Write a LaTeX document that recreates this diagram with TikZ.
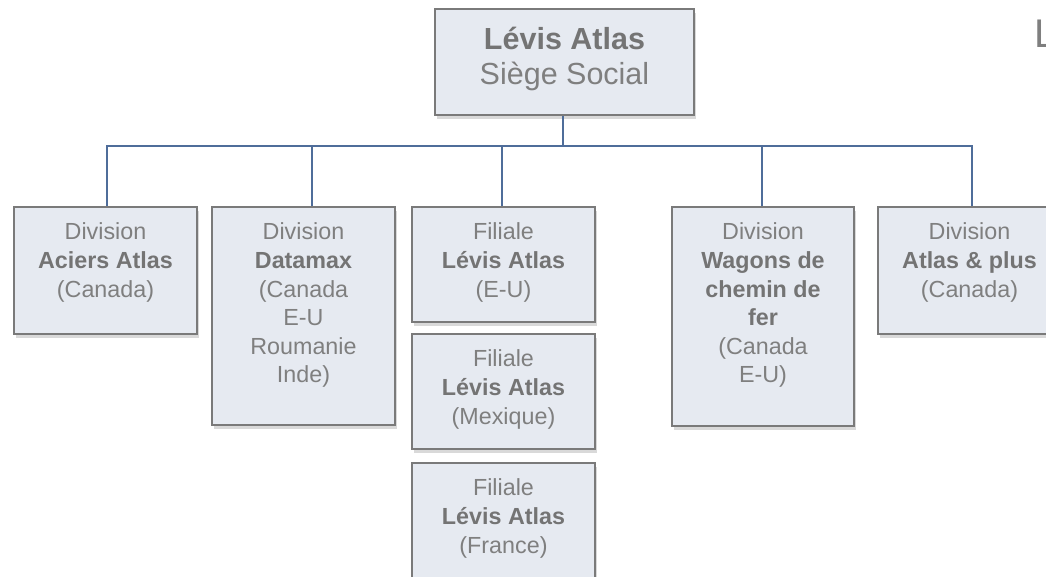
\documentclass[tikz,border=0pt]{standalone}
\usepackage{fontspec}
\setmainfont{Liberation Sans}
\usetikzlibrary{shadows}
\definecolor{boxfill}{HTML}{E6EAF1}
\definecolor{boxdraw}{HTML}{7A7A7A}
\definecolor{txt}{HTML}{7F7F7F}
\definecolor{txtb}{HTML}{747474}
\definecolor{conn}{HTML}{4F6D9A}
\tikzset{
  orgbox/.style={draw=boxdraw, fill=boxfill, line width=2.6pt, inner sep=0pt,
    drop shadow={shadow xshift=2pt, shadow yshift=-4pt, fill=black, opacity=0.15}},
  orgtxt/.style={anchor=north, inner sep=0pt, align=center, text=txt,
    font=\fontsize{23.3}{28.6}\selectfont},
  toptxt/.style={anchor=north, inner sep=0pt, align=center, text=txt,
    font=\fontsize{30.5}{35}\selectfont},
  link/.style={draw=conn, line width=1.5pt},
}
\newcommand{\bx}[1]{\textcolor{txtb}{\bfseries #1}}
\newcommand{\st}{\rule{0pt}{18pt}}
\begin{document}
\begin{tikzpicture}[x=1pt,y=-1pt]
\useasboundingbox (0,0) rectangle (1046,576);
\clip (0,0) rectangle (1046,576);
% boxes
\node[orgbox, minimum width=259pt, minimum height=106pt] (top) at (564.5,62) {};
\node[orgbox, minimum width=183pt, minimum height=127pt] (aciers) at (105.5,270.5) {};
\node[orgbox, minimum width=183pt, minimum height=218pt] (datamax) at (303.5,316) {};
\node[orgbox, minimum width=183pt, minimum height=115pt] (feu) at (503.5,264.5) {};
\node[orgbox, minimum width=183pt, minimum height=115pt] (fmex) at (503.5,391.5) {};
\node[orgbox, minimum width=183pt, minimum height=137pt] (ffra) at (503.5,531.5) {};
\node[orgbox, minimum width=182pt, minimum height=219pt] (wagons) at (763,316.5) {};
\node[orgbox, minimum width=183pt, minimum height=127pt] (plus) at (969.5,270.5) {};
% texts
\node[toptxt] (toptext) at ([yshift=-12pt]top.north) {\rule{0pt}{30pt}\bx{Lévis Atlas}\\Siège Social};
\node[orgtxt] (aciersT) at ([yshift=-16pt]aciers.north) {\st Division\\\bx{Aciers Atlas}\\(Canada)};
\node[orgtxt] (datamaxT) at ([yshift=-16pt]datamax.north) {\st Division\\\bx{Datamax}\\(Canada\\E-U\\Roumanie\\Inde)};
\node[orgtxt] (feuT) at ([yshift=-16pt]feu.north) {\st Filiale\\\bx{Lévis Atlas}\\(E-U)};
\node[orgtxt] (fmexT) at ([yshift=-16pt]fmex.north) {\st Filiale\\\bx{Lévis Atlas}\\(Mexique)};
\node[orgtxt] (ffraT) at ([yshift=-16pt]ffra.north) {\st Filiale\\\bx{Lévis Atlas}\\(France)};
\node[orgtxt] (wagonsT) at ([yshift=-16pt]wagons.north) {\st Division\\\bx{Wagons de}\\\bx{chemin de}\\\bx{fer}\\(Canada\\E-U)};
\node[orgtxt] (plusT) at ([yshift=-16pt]plus.north) {\st Division\\\bx{Atlas \& plus}\\(Canada)};
% partial title
\node[anchor=base west, inner sep=0pt, text=txt, font=\fontsize{40}{40}\selectfont] (title) at (1034,47) {L};
% connectors
\coordinate (bus) at (563,146);
\draw[link] ([xshift=-1.5pt]top.south) -- (bus);
\draw[link] ([xshift=1.5pt]aciers.north) |- (bus);
\draw[link] ([xshift=8.5pt]datamax.north) |- (bus);
\draw[link] ([xshift=-1.5pt]feu.north) |- (bus);
\draw[link] ([xshift=-1pt]wagons.north) |- (bus);
\draw[link] ([xshift=2.5pt]plus.north) |- (bus);
\end{tikzpicture}
\end{document}
